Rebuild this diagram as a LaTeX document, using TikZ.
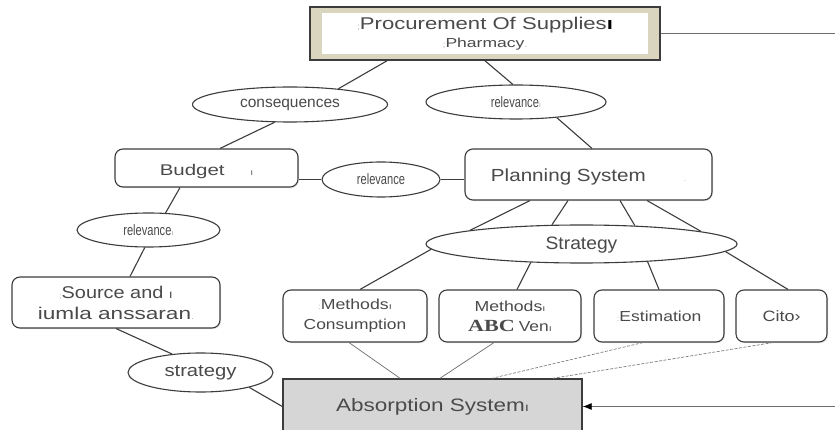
\documentclass[tikz,border=0pt]{standalone}
\usepackage{fontspec}
\setmainfont{Liberation Sans}
\newfontfamily\abcfont{Liberation Serif}
\usepackage{graphicx}
\usetikzlibrary{shapes.geometric,calc,shadows,arrows.meta}
\definecolor{txt}{HTML}{4A4A4A}
\definecolor{edge}{HTML}{3C3C3C}
\definecolor{beige}{HTML}{D9D5BF}
\definecolor{absfill}{HTML}{D6D6D6}
\newcommand{\hs}[2]{\scalebox{#1}[1]{#2}}
\newcommand{\fs}[1]{\fontsize{#1}{#1}\selectfont}
\newcommand{\mk}[1]{\textcolor{gray!60}{\fs{8}#1}}
\newcommand{\dn}[2]{\raisebox{-#1}[\height][\depth]{#2}}
\begin{document}
\begin{tikzpicture}[x=1pt,y=-1pt,
  box/.style={draw=edge, line width=1.1pt, rounded corners=8pt, fill=white, inner sep=0pt, text=txt, align=center,
    drop shadow={opacity=0.18, shadow xshift=1.2pt, shadow yshift=-1.2pt}},
  oval/.style={ellipse, draw=edge, line width=1.1pt, fill=white, inner sep=0pt, text=txt},
  conn/.style={draw=edge, line width=1.1pt},
  lightconn/.style={draw=gray!85!black, line width=0.7pt},
  dashline/.style={draw=gray, line width=0.7pt, dash pattern=on 3pt off 1.5pt},
]
\fill[white] (0,0) rectangle (835,430);
\useasboundingbox (0,0) rectangle (835,430);

% nodes
\node[draw=edge, line width=1.6pt, fill=beige, minimum width=350pt, minimum height=53pt, inner sep=0pt] (top) at (485,33.5) {};
\node[fill=white, minimum width=326pt, minimum height=41pt, inner sep=0pt, align=center, text=txt,
      font=\fontsize{13}{18}\selectfont] (topin) at (485,33.5)
  {\hs{1.3}{\fs{17}\mk{;}Procurement Of Supplies\textcolor{black}{\textbf{ı}}}\\\hs{1.35}{\mk{;}Pharmacy\mk{.}}};

\node[oval, minimum width=195pt, minimum height=35pt] (cons) at (290,104.5) {\fs{15.5}consequences};
\node[oval, minimum width=180pt, minimum height=34pt] (rel1) at (516,102) {\hs{0.74}{\fs{15}relevance}\mk{ı}};
\node[box, minimum width=183pt, minimum height=38pt] (budget) at (206.5,168) {\dn{3pt}{\hs{1.32}{\fs{15.5}Budget}\hspace{26pt}{\fs{9}ı}}};
\node[oval, minimum width=118pt, minimum height=35pt] (relmid) at (381,179.5) {\hs{0.74}{\fs{15}relevance}};
\node[box, minimum width=247pt, minimum height=51pt] (plan) at (588.5,174.5) {\dn{2pt}{\hs{1.18}{\fs{17.5}Planning System}\hspace{38pt}\mk{.}}};
\node[oval, minimum width=143pt, minimum height=34pt] (relL) at (148.5,230) {\hs{0.74}{\fs{15}relevance}\mk{ı}};
\node[oval, minimum width=311pt, minimum height=38pt] (strat) at (581.5,244) {\dn{1pt}{\hs{1.07}{\fs{18}Strategy}}};
\node[box, minimum width=208pt, minimum height=51pt, font=\fontsize{17}{21}\selectfont] (source) at (116,302.5)
  {\hs{1.17}{\mk{;}Source and {\fs{12}ı}}\\\hs{1.33}{iumla anssaran\mk{.}}};
\node[oval, minimum width=145pt, minimum height=39pt] (strat2) at (200.5,372.5) {\hs{1.19}{\fs{17}strategy}};

\node[box, minimum width=144pt, minimum height=52pt, font=\fontsize{14.5}{20}\selectfont] (box1) at (355,316)
  {\hs{1.22}{\mk{:}Methods{\fs{9}ı}}\\\hs{1.2}{Consumption}};
\node[box, minimum width=142pt, minimum height=52pt, font=\fontsize{14.5}{20}\selectfont] (box2) at (510,316)
  {\hs{1.22}{Methods{\fs{9}ı}}\\{\abcfont\bfseries\hs{1.3}{\fs{17}ABC}} \hs{1.2}{Ven{\fs{9}ı}}};
\node[box, minimum width=130pt, minimum height=52pt] (box3) at (659,316) {\hs{1.21}{\fs{14.5}\mk{:}Estimation}};
\node[box, minimum width=91pt, minimum height=52pt] (box4) at (781.5,316) {\hs{1.2}{\fs{15}Cito›}};

\node[draw=edge, line width=1.4pt, fill=absfill, minimum width=299pt, minimum height=55pt, inner sep=0pt, text=txt] (abs) at (432.5,406.5)
  {\hs{1.25}{\fs{18}Absorption System{\fs{12}ı}}};

\coordinate (rt) at (835,33.5);
\coordinate (ra) at (835,406.5);

% connectors
\draw[conn] ($(top.south)+(-98,0)$) -- (cons.18);
\draw[conn] (top.south) -- (rel1.100);
\draw[conn] (cons.229) -- ($(budget.north)+(13.5,0)$);
\draw[conn] (rel1.339) -- ($(plan.north)+(3.5,0)$);
\draw[conn] (relmid.west -| budget.east) -- (relmid.west);
\draw[conn] (relmid.east) -- (relmid.east -| plan.west);
\draw[conn] ($(budget.south)+(-26.5,0)$) -- (relL.45);
\draw[conn] (relL.258) -- ($(source.north)+(14,0)$);
\draw[conn] (source.south) -- (strat2.147);
\draw[conn] (strat2.343) -- (abs.west);

\draw[conn] ($(plan.south)+(-58.5,0)$) -- (strat.173);
\draw[conn] ($(plan.south)+(-20.5,0)$) -- (strat.147);
\draw[conn] ($(plan.south)+(31.5,0)$) -- (strat.19);
\draw[conn] ($(plan.south)+(58.5,0)$) -- (strat.6);

\draw[conn] (strat.182) -- ($(box1.north)+(5,0)$);
\draw[conn] (strat.200) -- ($(box2.north)+(7,0)$);
\draw[conn] (strat.345) -- (box3.north);
\draw[conn] (strat.357) -- ($(box4.north)+(6.5,0)$);

\draw[lightconn] ($(box1.south)+(-6,0)$) -- ($(abs.north)+(-32.5,0)$);
\draw[lightconn] ($(box2.south)+(-16,0)$) -- ($(abs.north)+(7.5,0)$);
\draw[dashline] ($(box3.south)+(-16,0)$) -- ($(abs.north)+(59.5,0)$);
\draw[dashline] ($(box4.south)+(-8.5,0)$) -- ($(abs.north)+(120.5,0)$);

\draw[lightconn] (top.east) -- (rt);
\draw[lightconn, -{Latex[length=9pt,width=7pt,black]}] (ra) -- (abs.east);
\end{tikzpicture}
\end{document}
